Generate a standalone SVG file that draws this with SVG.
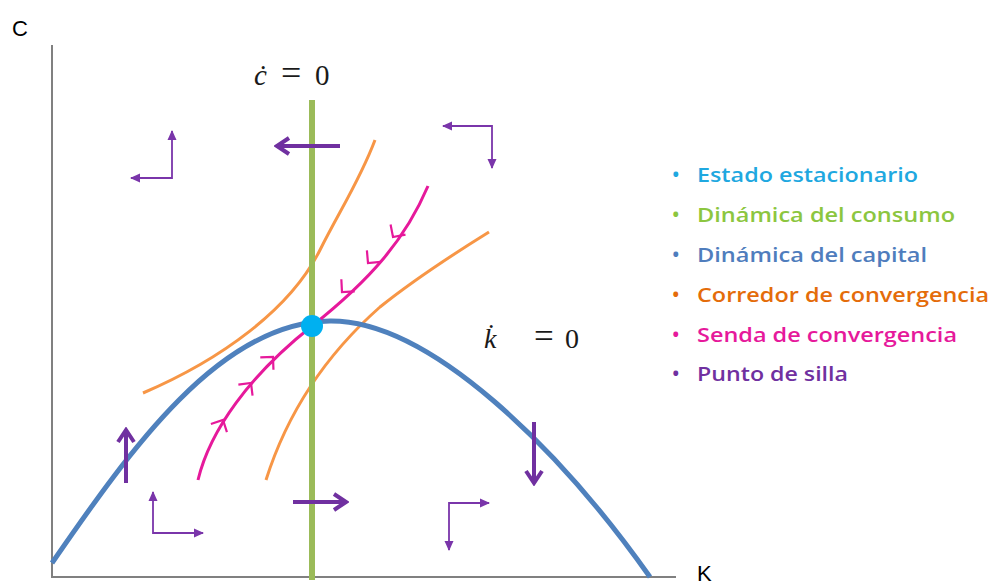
<svg xmlns="http://www.w3.org/2000/svg" xmlns:xlink="http://www.w3.org/1999/xlink" width="995" height="588" viewBox="0 0 995 588">
<style>
.axis{stroke:#808080;stroke-width:2;fill:none}
.lbl{font-family:"Liberation Sans",Arial,sans-serif;font-size:22px;fill:#000}
.math{font-family:"Liberation Serif","Times New Roman",serif;fill:#1a1a1a}
.leg{font-family:"Open Sans","Liberation Sans",sans-serif;font-size:20px;font-weight:600}
.thin{stroke:#7A35AA;stroke-width:1.8;fill:none;marker-start:url(#thinHead);marker-end:url(#thinHead)}
.thick{stroke:#7030A0;stroke-width:4;fill:none;marker-end:url(#thickHead)}
.chev{stroke:#E6199B;stroke-width:2.2;fill:none}
</style>
<defs>
<marker id="thinHead" markerUnits="userSpaceOnUse" viewBox="0 0 10 10" refX="9" refY="5" markerWidth="10" markerHeight="10" orient="auto-start-reverse">
<path d="M0,0.5 L10,5 L0,9.5 z" fill="#7A35AA"/>
</marker>
<marker id="thickHead" markerUnits="userSpaceOnUse" viewBox="0 0 20 20" refX="17" refY="10" markerWidth="20" markerHeight="20" orient="auto">
<path d="M5,2 L17,10 L5,18" fill="none" stroke="#7030A0" stroke-width="4"/>
</marker>
<path id="chev" d="M-9,-9 L0,0 L-9,9"/>
</defs>

<g id="axes">
<line class="axis" x1="52" y1="45" x2="52" y2="578"/>
<line class="axis" x1="51" y1="577" x2="676" y2="577"/>
<text class="lbl" x="12" y="36">C</text>
<text class="lbl" x="697" y="581" font-size="19">K</text>
</g>

<g id="corredor">
<path d="M143,393 C220,360 290,310 320,250 C340,210 360,180 375,140" fill="none" stroke="#F79646" stroke-width="3"/>
<path d="M266,480 C285,420 320,360 380,307 C420,275 460,250 489,232" fill="none" stroke="#F79646" stroke-width="3"/>
</g>

<g id="consumo">
<line x1="312" y1="100" x2="312" y2="580" stroke="#9BBB59" stroke-width="6"/>
<text class="math" x="254" y="85" font-size="29"><tspan font-style="italic">ċ</tspan><tspan x="281" font-size="36">=</tspan><tspan x="315">0</tspan></text>
</g>

<g id="capital">
<path d="M52,563 C130,450 220,322 330,321 C430,320 560,450 650,577" fill="none" stroke="#4F81BD" stroke-width="5"/>
<text class="math" x="484" y="348" font-size="28"><tspan font-style="italic">k̇</tspan><tspan x="534" font-size="35">=</tspan><tspan x="565">0</tspan></text>
</g>

<g id="senda">
<path d="M198,480 C210,430 250,375 312,326 C370,280 405,240 428,186" fill="none" stroke="#E6199B" stroke-width="3"/>
<use xlink:href="#chev" class="chev" transform="translate(223,420) rotate(-63)"/>
<use xlink:href="#chev" class="chev" transform="translate(251,383) rotate(-52)"/>
<use xlink:href="#chev" class="chev" transform="translate(273,357) rotate(-47)"/>
<use xlink:href="#chev" class="chev" transform="translate(342,292) rotate(132)"/>
<use xlink:href="#chev" class="chev" transform="translate(368,263) rotate(130)"/>
<use xlink:href="#chev" class="chev" transform="translate(393,237) rotate(124)"/>
</g>

<g id="estado">
<circle cx="312" cy="326" r="11" fill="#00B0F0"/>
</g>

<g id="connectors">
<path class="thin" d="M131,178 L172,178 L172,131"/>
<path class="thin" d="M443,126 L492,126 L492,168"/>
<path class="thin" d="M153,492 L153,533 L203,533"/>
<path class="thin" d="M489,503 L449,503 L449,550"/>
<line class="thick" x1="340" y1="146" x2="277" y2="146"/>
<line class="thick" x1="293" y1="502" x2="346" y2="502"/>
<line class="thick" x1="126" y1="483" x2="126" y2="430"/>
<line class="thick" x1="534" y1="422" x2="534" y2="483"/>
</g>

<g id="legend">
<g id="leg-estado" fill="#1FA8E0"><text class="leg" x="672" y="182">•</text><text class="leg" x="697" y="182" textLength="221" lengthAdjust="spacingAndGlyphs">Estado estacionario</text></g>
<g id="leg-consumo" fill="#8CC63F"><text class="leg" x="672" y="222">•</text><text class="leg" x="697" y="222" textLength="258" lengthAdjust="spacingAndGlyphs">Dinámica del consumo</text></g>
<g id="leg-capital" fill="#4F7DBD"><text class="leg" x="672" y="262">•</text><text class="leg" x="697" y="262" textLength="230" lengthAdjust="spacingAndGlyphs">Dinámica del capital</text></g>
<g id="leg-corredor" fill="#E46C0A"><text class="leg" x="672" y="302">•</text><text class="leg" x="697" y="302" textLength="292" lengthAdjust="spacingAndGlyphs">Corredor de convergencia</text></g>
<g id="leg-senda" fill="#E6199B"><text class="leg" x="672" y="342">•</text><text class="leg" x="697" y="342" textLength="260" lengthAdjust="spacingAndGlyphs">Senda de convergencia</text></g>
<g id="leg-punto" fill="#7030A0"><text class="leg" x="672" y="381">•</text><text class="leg" x="697" y="381" textLength="151" lengthAdjust="spacingAndGlyphs">Punto de silla</text></g>
</g>
</svg>
